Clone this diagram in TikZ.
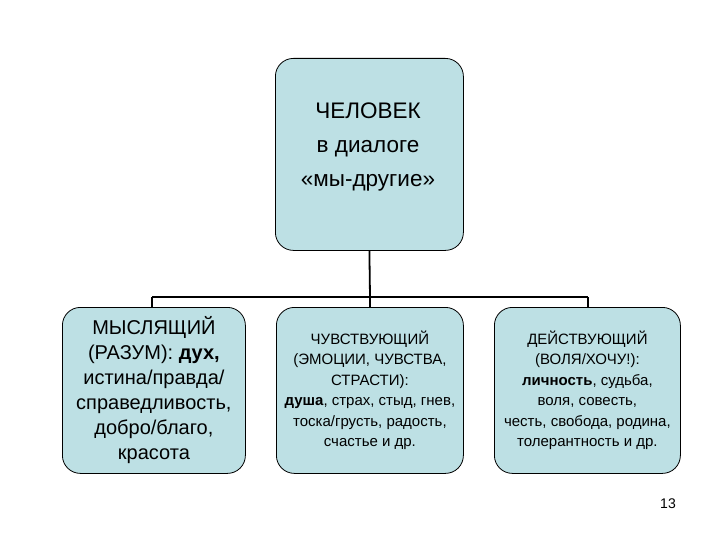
\documentclass[tikz,border=0pt]{standalone}
\usepackage{fontspec}
\setmainfont{Liberation Sans}
\begin{document}
\begin{tikzpicture}[x=1pt,y=-1pt,
 box/.style={draw=black,line width=0.8pt,fill=boxblue,rounded corners=18pt,align=center,inner sep=2pt},
 conn/.style={line width=1.8pt}]
\definecolor{boxblue}{HTML}{BDE0E4}
\useasboundingbox (0,0) rectangle (720,540);
\node[box,minimum width=188pt,minimum height=192pt,anchor=north west] (top) at (275,58) {};
\node[align=center,font=\fontsize{22.5}{34}\selectfont] (toptxt) at (368,147)
 {ЧЕЛОВЕК\\в диалоге\\«мы-другие»};
\node[box,minimum width=183pt,minimum height=166pt,anchor=north west,font=\fontsize{20}{25}\selectfont] (l) at (62,307)
 {МЫСЛЯЩИЙ\\(РАЗУМ): \textbf{дух,}\\ истина/правда/\\справедливость,\\добро/благо,\\красота};
\node[box,minimum width=187pt,minimum height=166pt,anchor=north west,font=\fontsize{15}{20.5}\selectfont] (m) at (276,307)
 {ЧУВСТВУЮЩИЙ\\(ЭМОЦИИ, ЧУВСТВА,\\СТРАСТИ):\\\textbf{душа}, страх, стыд, гнев,\\тоска/грусть, радость,\\счастье и др.};
\node[box,minimum width=186pt,minimum height=166pt,anchor=north west,font=\fontsize{15}{20.5}\selectfont] (r) at (494,307)
 {ДЕЙСТВУЮЩИЙ\\(ВОЛЯ/ХОЧУ!):\\\textbf{личность}, судьба,\\воля, совесть,\\честь, свобода, родина,\\толерантность и др.};
\coordinate (j) at (370,297);
\coordinate (jl) at (152,297);
\coordinate (jr) at (588,297);
\draw[conn] (top.south) -- (j);
\draw[conn] (jl) -- (jr);
\draw[conn] (jl) -- (jl|-l.north);
\draw[conn] (j) -- (j|-m.north);
\draw[conn] (jr) -- (jr|-r.north);
\node[font=\fontsize{14}{16}\selectfont] (pg) at (668,504) {13};
\end{tikzpicture}
\end{document}
